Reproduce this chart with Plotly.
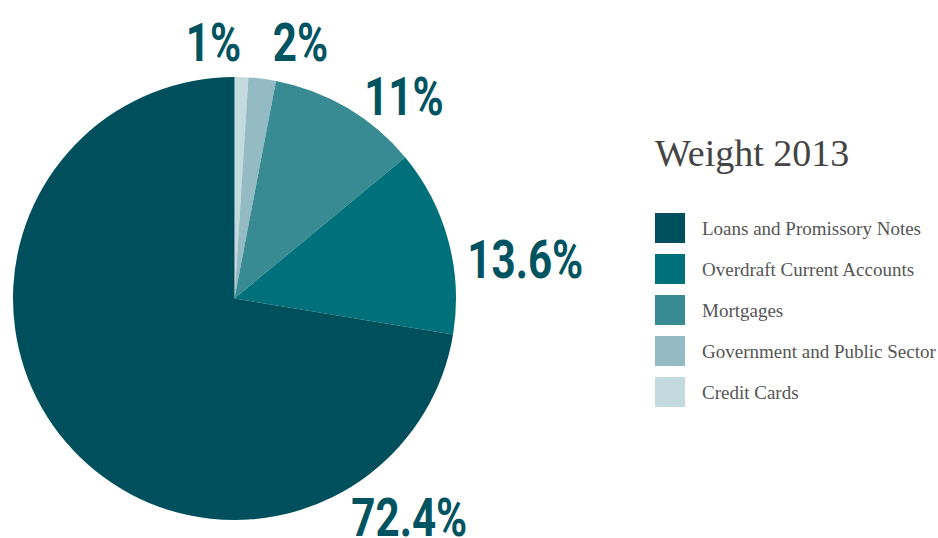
import plotly.graph_objects as go

# Loan portfolio composition, 2013
categories = [
    "Loans and Promissory Notes",
    "Overdraft Current Accounts",
    "Mortgages",
    "Government and Public Sector",
    "Credit Cards",
]
weights = [72.4, 13.6, 11, 2, 1]
colors = ["#004f5c", "#00707a", "#388a93", "#94bac3", "#c3dade"]
legend_title = "Weight 2013"

W, H = 938, 538

# pixel-space anchors for the big percentage labels (center points)
label_pos = [(409, 517), (525, 259), (404, 97), (300, 43), (213, 43)]


def px(x):
    return x / W


def py(y):
    return 1 - y / H


# slices run clockwise from 12 o'clock, smallest first
fig = go.Figure(
    go.Pie(
        labels=categories[::-1],
        values=weights[::-1],
        sort=False,
        direction="clockwise",
        rotation=0,
        marker=dict(colors=colors[::-1], line=dict(width=0)),
        textinfo="none",
        hoverinfo="label+percent",
        showlegend=False,
        domain=dict(x=[px(13), px(456)], y=[py(520), py(77)]),
    )
)

annotations = []
for v, (x, y) in zip(weights, label_pos):
    annotations.append(
        dict(
            x=px(x), y=py(y), xref="paper", yref="paper",
            text=f"{v:g}%", showarrow=False,
            xanchor="center", yanchor="middle",
            font=dict(family="Roboto, sans-serif", size=54,
                      color="#005360", weight="bold"),
        )
    )

# custom legend
annotations.append(
    dict(
        x=px(653), y=py(153), xref="paper", yref="paper",
        text=legend_title, showarrow=False, xanchor="left", yanchor="middle",
        font=dict(family="Liberation Serif, serif", size=38, color="#444444"),
    )
)
shapes = []
row0, step = 228, 41
for i, (name, c) in enumerate(zip(categories, colors)):
    cy = row0 + i * step
    shapes.append(
        dict(type="rect", xref="paper", yref="paper",
             x0=px(655), x1=px(685), y0=py(cy + 15), y1=py(cy - 15),
             fillcolor=c, line=dict(width=0))
    )
    annotations.append(
        dict(
            x=px(700), y=py(cy), xref="paper", yref="paper",
            text=name, showarrow=False, xanchor="left", yanchor="middle",
            font=dict(family="Liberation Serif, serif", size=19, color="#555555"),
        )
    )

fig.update_layout(
    width=W, height=H,
    margin=dict(l=0, r=0, t=0, b=0),
    paper_bgcolor="white", plot_bgcolor="white",
    annotations=annotations, shapes=shapes,
)

# condense the percentage figures horizontally (narrow display face)
n_labels = len(weights)
post = """
var gd = document.getElementById('{plot_id}');
function condense() {
  for (var i = 0; i < %d; i++) {
    var t = gd.querySelector('g.annotation[data-index="' + i + '"] text.annotation-text');
    if (!t || t.getAttribute('lengthAdjust')) continue;
    var w = t.getComputedTextLength();
    t.setAttribute('lengthAdjust', 'spacingAndGlyphs');
    t.setAttribute('textLength', (w * 0.78).toFixed(1));
  }
}
condense();
gd.on('plotly_afterplot', condense);
""" % n_labels

fig.write_html("out.html", post_script=post)
